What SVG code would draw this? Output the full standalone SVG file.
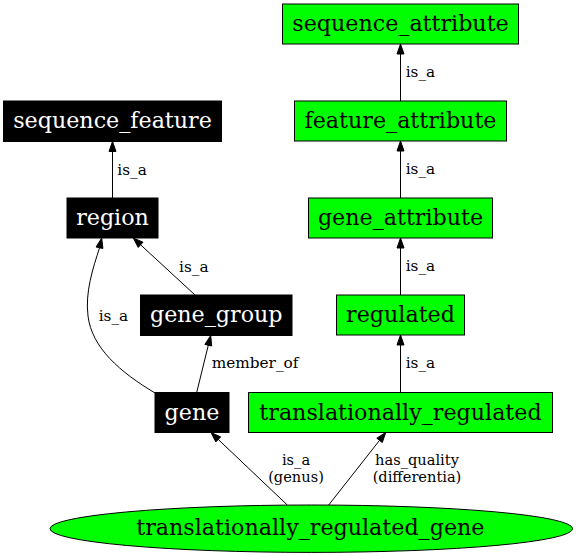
<svg xmlns="http://www.w3.org/2000/svg" width="576" height="556" viewBox="0 0 576 556">
<style>
.blk rect{fill:#000;stroke:#000;stroke-width:1}
.grn rect,.grn ellipse{fill:#00ff00;stroke:#000;stroke-width:1}
.nl{font-family:"DejaVu Serif",serif;font-size:22.2px;text-anchor:middle}
.blk text{fill:#fff}
.grn text{fill:#000}
.el{font-family:"DejaVu Serif",serif;font-size:15.3px;fill:#000}
.mid{text-anchor:middle;font-size:14.6px}
#edges path{fill:none;stroke:#000;stroke-width:1}
#edges polygon{fill:#000;stroke:#000;stroke-width:1}
</style>
<rect width="576" height="556" fill="#fff"/>
<g id="edges">
<path d="M400.5,101V54"/><polygon points="400.5,44 404,54 397,54"/>
<text class="el" x="405.7" y="77">is_a</text>
<path d="M400.5,198V151"/><polygon points="400.5,141 404,151 397,151"/>
<text class="el" x="405.7" y="174">is_a</text>
<path d="M400.5,295V248"/><polygon points="400.5,238 404,248 397,248"/>
<text class="el" x="405.7" y="271">is_a</text>
<path d="M400.5,392.5V345"/><polygon points="400.5,335 404,345 397,345"/>
<text class="el" x="405.7" y="368">is_a</text>
<path d="M112.5,198V151.5"/><polygon points="112.5,141.5 116,151.5 109,151.5"/>
<text class="el" x="117.3" y="174.5">is_a</text>
<path d="M195,295L140.6,244.8"/><polygon points="133.3,238 143,242.2 138.2,247.4"/>
<text class="el" x="179" y="271.5">is_a</text>
<path d="M155,393C120,372 92,348 88,316C85,292 93,268 99.5,248"/><polygon points="101.7,238 102.9,248.5 96.1,247"/>
<text class="el" x="98.7" y="320.5">is_a</text>
<path d="M196.7,392.5L208.3,345.2"/><polygon points="210.7,335.5 211.7,346 204.9,344.4"/>
<text class="el" x="211.7" y="368">member_of</text>
<path d="M287.3,505L218.2,439.4"/><polygon points="211,432.5 220.7,436.9 215.8,441.9"/>
<text class="el mid"><tspan x="296" y="465">is_a</tspan><tspan x="296" y="482">(genus)</tspan></text>
<path d="M328.7,505L379.5,440.4"/><polygon points="385.7,432.5 382.3,442.5 376.8,438.2"/>
<text class="el mid"><tspan x="417" y="465">has_quality</tspan><tspan x="417" y="482">(differentia)</tspan></text>
</g>
<g id="sequence_feature" class="blk"><rect x="3.5" y="101" width="218" height="40.5"/><text class="nl" x="112.5" y="128">sequence_feature</text></g>
<g id="region" class="blk"><rect x="67" y="198" width="91" height="40"/><text class="nl" x="112.5" y="225">region</text></g>
<g id="gene_group" class="blk"><rect x="140.5" y="295" width="151.5" height="40.5"/><text class="nl" x="216.25" y="322">gene_group</text></g>
<g id="gene" class="blk"><rect x="155" y="392.5" width="74" height="40"/><text class="nl" x="192" y="419.5">gene</text></g>
<g id="sequence_attribute" class="grn"><rect x="282.5" y="4" width="236" height="40"/><text class="nl" x="400.5" y="31">sequence_attribute</text></g>
<g id="feature_attribute" class="grn"><rect x="294.5" y="101" width="212" height="40"/><text class="nl" x="400.5" y="128">feature_attribute</text></g>
<g id="gene_attribute" class="grn"><rect x="308.5" y="198" width="184" height="40"/><text class="nl" x="400.5" y="225">gene_attribute</text></g>
<g id="regulated" class="grn"><rect x="336.5" y="295" width="128" height="40"/><text class="nl" x="400.5" y="322">regulated</text></g>
<g id="translationally_regulated" class="grn"><rect x="248.5" y="392.5" width="304" height="40"/><text class="nl" x="400.5" y="419.5">translationally_regulated</text></g>
<g id="translationally_regulated_gene" class="grn"><ellipse cx="311.3" cy="528.7" rx="261.3" ry="23.7"/><text class="nl" x="310.4" y="535">translationally_regulated_gene</text></g>
</svg>
